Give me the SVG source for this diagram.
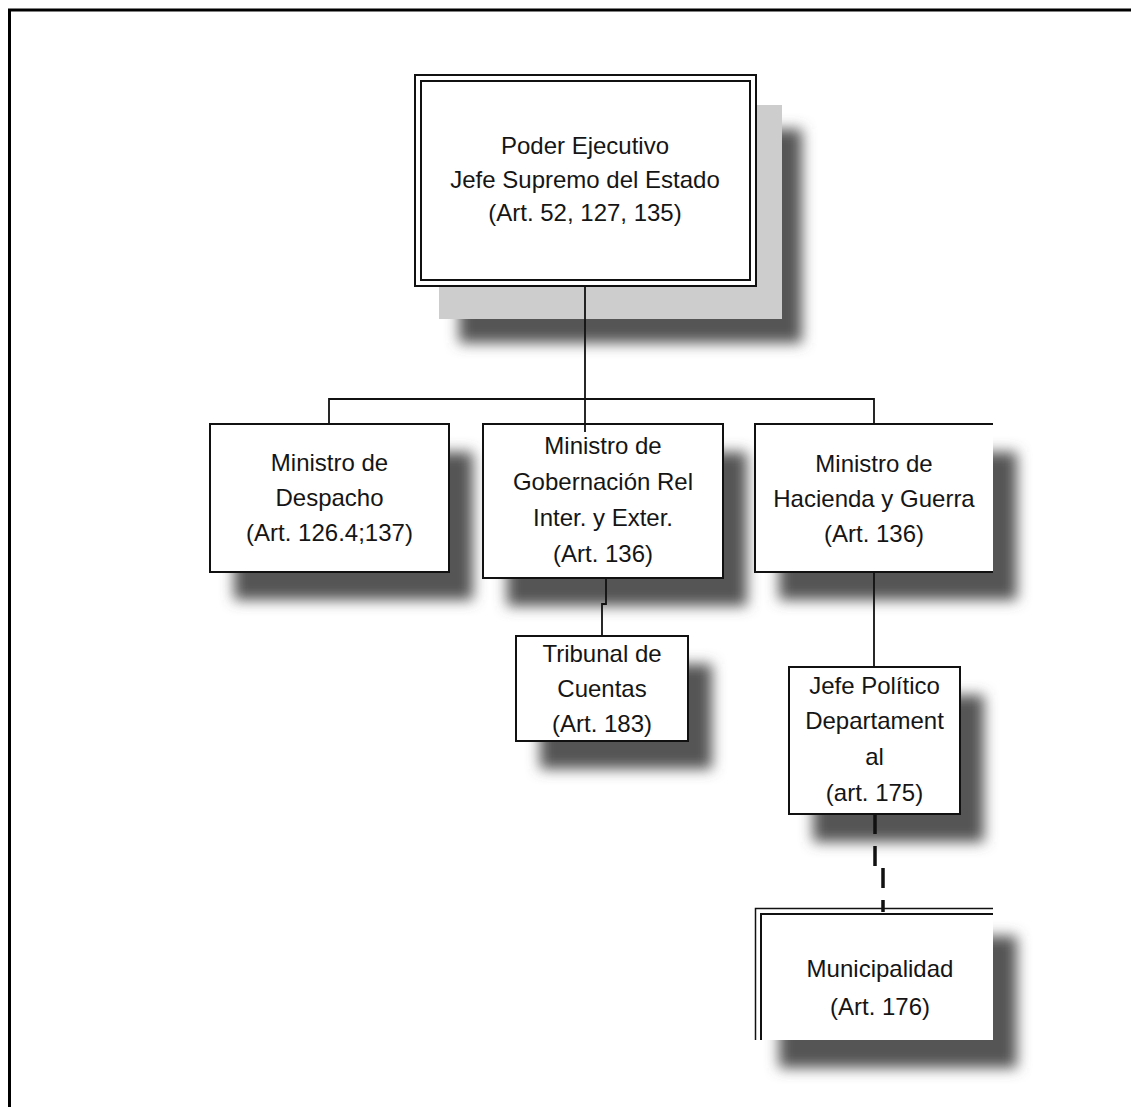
<svg xmlns="http://www.w3.org/2000/svg" width="1131" height="1107" viewBox="0 0 1131 1107">
  <defs>
    <filter id="soft" x="-30%" y="-30%" width="160%" height="160%">
      <feGaussianBlur stdDeviation="7"/>
    </filter>
    <filter id="lineSoft" x="-200%" y="-50%" width="500%" height="200%">
      <feGaussianBlur stdDeviation="5"/>
    </filter>
    <style>
      .frame { fill: none; stroke: #000; stroke-width: 3; }
      .box { fill: #fff; stroke: #111; stroke-width: 2; }
      .fill { fill: #fff; stroke: none; }
      .edge { fill: none; stroke: #111; stroke-width: 2; }
      .thin { fill: none; stroke: #111; stroke-width: 1.5; }
      .shadow { fill: #555; filter: url(#soft); }
      .plate { fill: #cdcdcd; }
      .link { fill: none; stroke: #111; stroke-width: 1.8; }
      .dash { fill: none; stroke: #111; stroke-width: 3.5; stroke-dasharray: 20 12; }
      .link-shadow { fill: none; stroke: #000; stroke-opacity: 0.16; stroke-width: 12; filter: url(#lineSoft); }
      .t { font-family: "Liberation Sans", Arial, sans-serif; font-size: 24px; fill: #151515; text-anchor: middle; }
    </style>
  </defs>

  <rect width="1131" height="1107" fill="#fff"/>
  <path class="frame" d="M9.5,1107 V10 H1131"/>

  <!-- soft shadows cast by the connector lines -->
  <g id="connector-shadows" transform="translate(22,20)">
    <path class="link-shadow" d="M585,300 V420"/>
    <path class="link-shadow" d="M874,580 V650"/>
    <path class="link-shadow" d="M879,820 V900"/>
  </g>

  <!-- Poder Ejecutivo -->
  <g id="poder-ejecutivo">
    <rect class="shadow" x="459" y="129" width="343" height="214"/>
    <rect class="plate" x="439" y="105" width="343" height="214"/>
    <rect class="box" x="415" y="75" width="341" height="211" stroke-width="1.5"/>
    <rect class="edge" x="421" y="81" width="329" height="199"/>
    <text class="t" x="585" y="154">Poder Ejecutivo</text>
    <text class="t" x="585" y="188">Jefe Supremo del Estado</text>
    <text class="t" x="585" y="221">(Art. 52, 127, 135)</text>
  </g>

  <!-- Ministro de Despacho -->
  <g id="ministro-despacho">
    <rect class="shadow" x="234" y="452" width="239" height="148"/>
    <rect class="box" x="210" y="424" width="239" height="148"/>
    <text class="t" x="329.5" y="471">Ministro de</text>
    <text class="t" x="329.5" y="506">Despacho</text>
    <text class="t" x="329.5" y="541">(Art. 126.4;137)</text>
  </g>

  <!-- Ministro de Gobernación -->
  <g id="ministro-gobernacion">
    <rect class="shadow" x="507" y="452" width="240" height="154"/>
    <rect class="box" x="483" y="424" width="240" height="154"/>
    <text class="t" x="603" y="454">Ministro de</text>
    <text class="t" x="603" y="490">Gobernación Rel</text>
    <text class="t" x="603" y="526">Inter. y Exter.</text>
    <text class="t" x="603" y="562">(Art. 136)</text>
  </g>

  <!-- Ministro de Hacienda y Guerra (cut off at the right) -->
  <g id="ministro-hacienda">
    <rect class="shadow" x="779" y="452" width="238" height="148"/>
    <rect class="fill" x="755" y="424" width="238" height="148"/>
    <path class="edge" d="M993,424 H755 V572 H993"/>
    <text class="t" x="874" y="472">Ministro de</text>
    <text class="t" x="874" y="507">Hacienda y Guerra</text>
    <text class="t" x="874" y="542">(Art. 136)</text>
  </g>

  <!-- Tribunal de Cuentas -->
  <g id="tribunal-cuentas">
    <rect class="shadow" x="540" y="664" width="172" height="105"/>
    <rect class="box" x="516" y="636" width="172" height="105"/>
    <text class="t" x="602" y="662">Tribunal de</text>
    <text class="t" x="602" y="697">Cuentas</text>
    <text class="t" x="602" y="732">(Art. 183)</text>
  </g>

  <!-- Jefe Político Departamental -->
  <g id="jefe-politico">
    <rect class="shadow" x="813" y="695" width="171" height="147"/>
    <rect class="box" x="789" y="667" width="171" height="147"/>
    <text class="t" x="874.5" y="694">Jefe Político</text>
    <text class="t" x="874.5" y="729">Departament</text>
    <text class="t" x="874.5" y="765">al</text>
    <text class="t" x="874.5" y="801">(art. 175)</text>
  </g>

  <!-- Municipalidad (cut off at the right and bottom) -->
  <g id="municipalidad">
    <rect class="shadow" x="779" y="936" width="238" height="132"/>
    <rect class="fill" x="755" y="908" width="238" height="132"/>
    <path class="thin" d="M755.5,1040 V908.5 H993"/>
    <path class="edge" d="M761,1040 V914 H993"/>
    <text class="t" x="880" y="977">Municipalidad</text>
    <text class="t" x="880" y="1015">(Art. 176)</text>
  </g>

  <!-- connectors -->
  <g id="connectors">
    <path class="link" d="M585,286 V432"/>
    <path class="link" d="M329,424 V399 H874 V424"/>
    <path class="link" d="M606,578 V604 H602 V636"/>
    <path class="link" d="M874,572 V667"/>
    <path class="dash" d="M875,814 V867"/>
    <path class="dash" d="M883,868 V912"/>
  </g>
</svg>
